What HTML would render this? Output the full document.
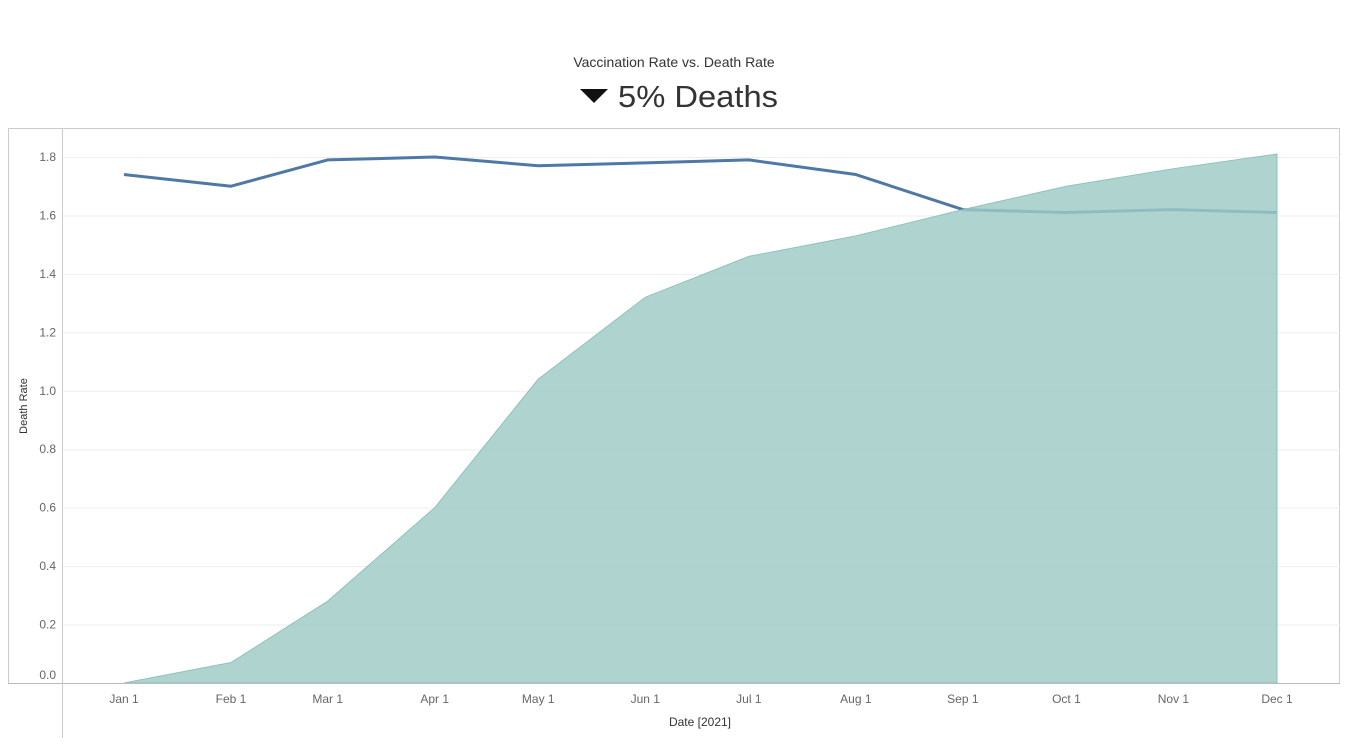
<!DOCTYPE html>
<html><head><meta charset="utf-8"><style>
body{margin:0;background:#fff;width:1359px;height:755px;overflow:hidden;font-family:"Liberation Sans",sans-serif}
</style></head><body>
<svg id="c" width="1359" height="755" style="position:absolute;left:0;top:0">
<text x="674" y="67" text-anchor="middle" font-size="14" fill="#333">Vaccination Rate vs. Death Rate</text>
<g>
<polygon points="580,89 608,89 594,103" fill="#111"/>
<text x="618" y="107" font-size="31" fill="#333" textLength="160" lengthAdjust="spacingAndGlyphs">5% Deaths</text>
</g>
<rect x="8.5" y="128.5" width="1331" height="555" fill="none" stroke="#ccc"/>
<line x1="62.5" y1="128" x2="62.5" y2="738" stroke="#ccc"/>
<g id="grid"></g><g id="marks"></g><g id="axes"></g>
<line x1="8" y1="683.5" x2="1340" y2="683.5" stroke="#bbb"/>
<text x="27" y="406" transform="rotate(-90 27 406)" text-anchor="middle" font-size="11" fill="#333">Death Rate</text>
<text x="700" y="726" text-anchor="middle" font-size="12" fill="#333">Date [2021]</text>
</svg>
<script>
const months=["Jan 1","Feb 1","Mar 1","Apr 1","May 1","Jun 1","Jul 1","Aug 1","Sep 1","Oct 1","Nov 1","Dec 1"];
const monthDays=[0,31,59,90,120,151,181,212,243,273,304,334];
const deathRate=[1.74,1.70,1.79,1.80,1.77,1.78,1.79,1.74,1.62,1.61,1.62,1.61];
const vaccRate=[0.0,0.07,0.28,0.60,1.04,1.32,1.46,1.53,1.62,1.70,1.76,1.81];
const yTicks=[0,0.2,0.4,0.6,0.8,1.0,1.2,1.4,1.6,1.8];
const NS="http://www.w3.org/2000/svg";
const x=d=>124+d*(1153/334);
const y=v=>683-v*(526/1.8);
function mk(t,a,p){const e=document.createElementNS(NS,t);for(const k in a)e.setAttribute(k,a[k]);p.appendChild(e);return e;}
const grid=document.getElementById('grid'),marks=document.getElementById('marks'),axes=document.getElementById('axes');
yTicks.forEach(v=>{
 const g=mk('line',{x1:63,x2:1340,y1:y(v)+0.5,y2:y(v)+0.5,stroke:'#eee'},grid);
 
 
 const t=mk('text',{x:56,y:(v===0?y(v)-4:y(v)+4),'text-anchor':'end','font-size':12,fill:'#666'},axes);
 t.textContent=v.toFixed(1);
 
 
});
months.forEach((m,i)=>{
 const t=mk('text',{x:x(monthDays[i]),y:703,'text-anchor':'middle','font-size':12,fill:'#666'},axes);
 t.textContent=m;
 
 
});
const line=mk('polyline',{points:deathRate.map((v,i)=>x(monthDays[i])+','+y(v)).join(' '),fill:'none',stroke:'#4e79a7','stroke-width':3,'stroke-linejoin':'round'},marks);


let pts=vaccRate.map((v,i)=>x(monthDays[i])+','+y(v));
const area=mk('polygon',{points:x(0)+','+y(0)+' '+pts.join(' ')+' '+x(334)+','+y(0),fill:'#9ecbc6','fill-opacity':0.82,stroke:'#8fc2bc'},marks);


</script>
</body></html>
